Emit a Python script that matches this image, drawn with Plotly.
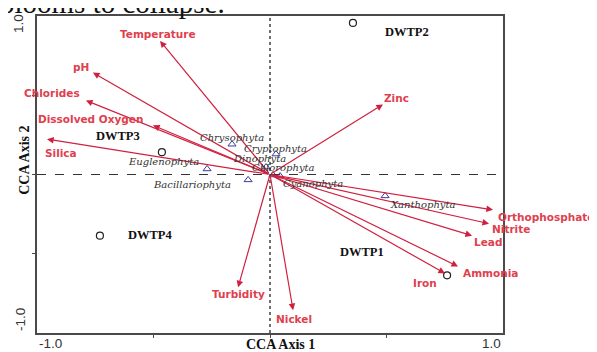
import plotly.graph_objects as go

# ---- data ----
env_names = ["Temperature", "pH", "Chlorides", "Dissolved Oxygen", "Silica", "Zinc",
             "Orthophosphate", "Nitrite", "Lead", "Ammonia", "Iron", "Turbidity", "Nickel"]
env_x = [-0.472, -0.760, -0.790, -0.502, -0.957, 0.485, 0.957, 0.940, 0.867, 0.807, 0.751, -0.137, 0.099]
env_y = [0.843, 0.643, 0.467, 0.310, 0.223, 0.442, -0.223, -0.310, -0.386, -0.580, -0.624, -0.712, -0.856]

site_names = ["DWTP1", "DWTP2", "DWTP3", "DWTP4"]
site_x = [0.760, 0.356, -0.464, -0.730]
site_y = [-0.636, 0.956, 0.141, -0.386]

spec_names = ["Chrysophyta", "Cryptophyta", "Dinophyta", "Chlorophyta", "Cyanophyta",
              "Euglenophyta", "Bacillariophyta", "Xanthophyta"]
spec_x = [-0.163, 0.026, -0.017, 0.013, 0.043, -0.270, -0.094, 0.494]
spec_y = [0.191, 0.129, 0.047, -0.003, -0.010, 0.035, -0.034, -0.135]

# ---- label placement (pixel offsets: right, down) ----
env_off = [(-2, -7), (-12, -6), (-34, -7), (-63, -6), (14, 14), (13, -6),
           (53, 7), (22, 5), (16, 6), (32, 7), (-20, 10), (0, 7), (1, 9)]
site_off = [(-85, -23), (54, 9), (-44, -16), (51, -1)]
spec_off = [(0, -7), (-1, -6), (-7, -9), (10, -7), (33, 7), (-44, -7), (-56, 5), (38, 9)]

ARROW = "#d0203f"
LABEL_RED = "#e0404e"
NAVY = "#3b3b9c"

fig = go.Figure()

fig.add_trace(go.Scatter(x=site_x, y=site_y, mode="markers",
                         marker=dict(symbol="circle-open", size=7, color="#222",
                                     line=dict(width=1.2)),
                         hoverinfo="skip", showlegend=False))
fig.add_trace(go.Scatter(x=spec_x, y=spec_y, mode="markers",
                         marker=dict(symbol="triangle-up-open", size=7, color=NAVY,
                                     line=dict(width=1)),
                         hoverinfo="skip", showlegend=False))

ann = []
for n, x, y, (dx, dy) in zip(env_names, env_x, env_y, env_off):
    ann.append(dict(x=x, y=y, ax=0, ay=0, xref="x", yref="y", axref="x", ayref="y",
                    text="", showarrow=True, arrowhead=2, arrowsize=1.1,
                    arrowwidth=1.2, arrowcolor=ARROW, standoff=0))
    ann.append(dict(x=x, y=y, xref="x", yref="y", text=n, showarrow=False,
                    xshift=dx, yshift=-dy,
                    font=dict(family="DejaVu Sans", size=10.5, color=LABEL_RED, weight="bold")))
for n, x, y, (dx, dy) in zip(site_names, site_x, site_y, site_off):
    ann.append(dict(x=x, y=y, xref="x", yref="y", text=n, showarrow=False,
                    xshift=dx, yshift=-dy,
                    font=dict(family="Liberation Serif", size=12.5, color="#111", weight="bold")))
for n, x, y, (dx, dy) in zip(spec_names, spec_x, spec_y, spec_off):
    ann.append(dict(x=x, y=y, xref="x", yref="y", text=n, showarrow=False,
                    xshift=dx, yshift=-dy,
                    font=dict(family="DejaVu Serif", size=10, color="#333", style="italic")))

# tick labels and axis titles
tickfont = dict(family="Liberation Sans", size=13.5, color="#333")
ann += [
    dict(x=-1, y=0, xref="x", yref="paper", text="-1.0", showarrow=False, xanchor="left",
         yanchor="top", yshift=-1, xshift=0, font=tickfont),
    dict(x=1, y=0, xref="x", yref="paper", text="1.0", showarrow=False, xanchor="right",
         yanchor="top", yshift=-1, xshift=0, font=tickfont),
    dict(x=0, y=1, xref="paper", yref="y", text="1.0", showarrow=False, textangle=-90,
         xanchor="right", yanchor="top", xshift=-9, yshift=4, font=tickfont),
    dict(x=0, y=-1, xref="paper", yref="y", text="-1.0", showarrow=False, textangle=-90,
         xanchor="right", yanchor="bottom", xshift=-7, yshift=0, font=tickfont),
    dict(x=0.045, y=0, xref="x", yref="paper", text="CCA Axis 1", showarrow=False,
         yanchor="top", yshift=-2,
         font=dict(family="Liberation Serif", size=14, color="#111", weight="bold")),
    dict(x=0, y=0.09, xref="paper", yref="y", text="CCA Axis 2", showarrow=False,
         textangle=-90, xanchor="right", xshift=-3,
         font=dict(family="Liberation Serif", size=14, color="#111", weight="bold")),
    dict(x=0, y=1, xref="paper", yref="paper", text="blooms to collapse.", showarrow=False,
         xanchor="left", yanchor="middle", xshift=-39, yshift=13,
         font=dict(family="Liberation Serif", size=29, color="#111")),
]

# page body has an 8px default margin; margins below compensate for it
fig.update_layout(
    width=597, height=352,
    margin=dict(l=29, r=102, t=6, b=27),
    paper_bgcolor="white", plot_bgcolor="white",
    annotations=ann,
    shapes=[
        dict(type="line", x0=0, x1=0, y0=-1, y1=1, xref="x", yref="y",
             line=dict(color="#111", width=1.2, dash="dot")),
        dict(type="line", x0=-1, x1=1, y0=0, y1=0, xref="x", yref="y",
             line=dict(color="#333", width=1, dash="dash")),
    ],
    xaxis=dict(range=[-1, 1], showgrid=False, zeroline=False, showline=True, mirror=True,
               linecolor="#4a4a4a", linewidth=1.5, ticks="outside", ticklen=3,
               tickcolor="#4a4a4a", tickvals=[-0.5, 0, 0.5], showticklabels=False),
    yaxis=dict(range=[-1, 1], showgrid=False, zeroline=False, showline=True, mirror=True,
               linecolor="#4a4a4a", linewidth=1.5, ticks="outside", ticklen=3,
               tickcolor="#4a4a4a", tickvals=[-0.5, 0, 0.5], showticklabels=False),
)

fig.write_html("out.html")
